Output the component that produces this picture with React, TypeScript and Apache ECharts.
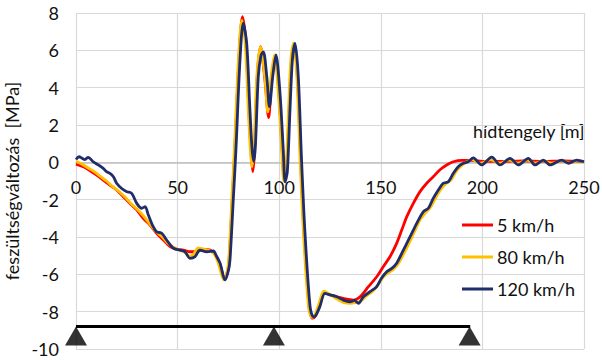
import React, { useEffect, useRef } from "react";
import * as echarts from "echarts";

const X_TICKS = [0, 50, 100, 150, 200, 250];
const SERIES_NAMES = ["5 km/h", "80 km/h", "120 km/h"];

const RED_X = [0, 3.6, 6.9, 10.2, 13.4, 16.7, 20, 23.3, 26.6, 29.9, 33.1, 36.4, 39.7, 43, 46.3, 49.5, 52.8, 56.1, 59.4, 62.5, 66, 69.2, 71, 73, 74.7, 75.5, 77, 78.3, 80.3, 81.9, 83.5, 85.2, 86.3, 87, 87.8, 89.2, 90.8, 92.9, 94.8, 96.3, 98, 99.9, 101.6, 102.6, 103.6, 104.9, 106.1, 107.4, 109, 110.6, 112.3, 114.8, 116.4, 117.7, 119.7, 122.2, 125, 128.5, 132, 136.5, 139.8, 143.9, 148, 151.2, 154.5, 157.8, 160.3, 162.8, 166, 169.3, 172.6, 175.8, 179, 182.4, 185.7, 190, 195, 200, 210, 220, 230, 240, 250];
const RED_Y = [-0.1, -0.24, -0.45, -0.68, -0.95, -1.22, -1.48, -1.84, -2.2, -2.55, -3.0, -3.36, -3.8, -4.16, -4.52, -4.66, -4.7, -4.79, -4.79, -4.66, -4.7, -5.06, -5.5, -6.25, -5.8, -5.0, -1.8, 1.0, 5.8, 7.8, 6.6, 2.5, 0.3, -0.5, 0.5, 4.6, 6.2, 4.5, 2.4, 4.5, 5.7, 3.6, 0.4, -1.0, -0.4, 2.8, 5.5, 6.3, 4.5, 0.1, -3.9, -7.8, -8.35, -8.25, -7.7, -7.0, -7.1, -7.2, -7.3, -7.38, -7.2, -6.66, -6.13, -5.59, -5.06, -4.34, -3.63, -2.91, -2.2, -1.57, -1.12, -0.77, -0.41, -0.14, 0.03, 0.1, 0.1, 0.05, 0.05, 0.08, 0.05, 0.08, 0.05];

const ORANGE_X = [0, 3, 6, 9, 12, 15, 18, 21, 24, 27, 30, 33, 36, 39, 42, 45, 48, 51, 54, 56, 58, 60, 63, 66, 68, 70, 72.8, 74.5, 75.3, 76.8, 78, 80, 81.6, 83.2, 84.8, 85.9, 86.6, 87.6, 89, 90.8, 92.9, 94.4, 96, 97.7, 99.6, 101.3, 102.3, 103.4, 104.6, 105.8, 107.1, 108.7, 110.3, 112, 114.5, 116.2, 117.5, 119.5, 122, 124.5, 128, 131.5, 135, 138, 140, 143, 146, 149, 151.5, 154, 156.5, 159, 162, 164.5, 167, 169.5, 172, 174.5, 177, 179.5, 182, 184.5, 187, 189.5, 192, 195, 199, 204, 208.5, 213, 217.5, 222, 226, 230, 234, 239, 243, 247, 250];
const ORANGE_Y = [0.05, -0.1, -0.3, -0.5, -0.75, -1.0, -1.3, -1.55, -1.85, -2.2, -2.5, -2.85, -3.25, -3.65, -3.95, -4.3, -4.55, -4.7, -4.85, -5.05, -4.9, -4.6, -4.65, -4.75, -4.9, -5.4, -6.3, -5.8, -5.0, -1.8, 0.8, 5.6, 7.6, 6.5, 2.8, 0.5, -0.25, 0.9, 4.6, 6.2, 4.6, 2.7, 4.6, 5.75, 3.7, 0.5, -1.0, -0.3, 2.8, 5.6, 6.4, 4.6, 0.1, -3.9, -7.8, -8.3, -8.2, -7.6, -6.9, -7.05, -7.3, -7.5, -7.55, -7.5, -7.45, -7.15, -6.9, -6.5, -6.1, -5.9, -5.7, -5.35, -4.75, -4.2, -3.6, -3.05, -2.7, -2.4, -1.9, -1.45, -1.15, -0.95, -0.5, -0.2, 0.0, 0.15, -0.05, 0.15, -0.05, 0.12, -0.05, 0.12, -0.05, 0.08, -0.05, 0.08, -0.02, 0.08, 0.03];

const NAVY_X = [0, 1.5, 3, 4.4, 6, 8.5, 11, 13.4, 15, 16.7, 18.4, 20, 22.5, 25, 27.4, 29.9, 32.3, 34, 35.6, 38, 39.7, 42.2, 44.6, 47.9, 51.2, 53.6, 56.1, 58.6, 61, 64.3, 67.6, 69, 70.9, 73.3, 75, 75.8, 77.4, 78.7, 80.7, 82.3, 84, 85.6, 86.6, 87.5, 88.3, 89.7, 91, 92.2, 93.9, 95.2, 96.8, 98.4, 100.4, 102, 102.9, 104, 105.3, 106.5, 107.8, 109.4, 111, 112.7, 115.2, 116.8, 118, 120, 122.5, 125, 128.3, 131.6, 134.8, 137, 139, 141.4, 144.7, 148, 150.4, 152.9, 155.4, 157.8, 161.1, 163.6, 166, 168.5, 170.9, 173.4, 175.8, 178.3, 180.7, 183.2, 185.7, 188.1, 190.6, 193, 195.5, 199.6, 204.6, 208.7, 213.6, 217.7, 222.6, 225.9, 230, 233.3, 239, 242.3, 246.4, 250];
const NAVY_Y = [0.15, 0.3, 0.22, 0.15, 0.27, 0.03, -0.14, -0.32, -0.5, -0.59, -0.77, -1.12, -1.4, -1.57, -1.66, -2.2, -2.46, -2.38, -2.82, -3.45, -3.72, -3.8, -4.16, -4.6, -4.7, -4.79, -5.14, -5.05, -4.7, -4.79, -4.75, -5.0, -5.4, -6.3, -5.8, -5.2, -2.0, 0.66, 5.48, 7.45, 6.37, 2.8, 0.8, 0.05, 0.9, 4.58, 5.7, 5.92, 4.58, 2.98, 4.58, 5.75, 3.7, 0.66, -1.04, -0.5, 2.8, 5.5, 6.37, 4.58, 0.12, -3.8, -7.73, -8.27, -8.2, -7.73, -7.02, -7.1, -7.2, -7.38, -7.47, -7.4, -7.55, -7.2, -6.93, -6.66, -6.2, -5.86, -5.68, -5.4, -4.7, -4.16, -3.63, -3.1, -2.65, -2.46, -1.93, -1.48, -1.12, -1.04, -0.59, -0.24, -0.05, 0.03, 0.24, -0.14, 0.28, -0.14, 0.21, -0.14, 0.21, -0.14, 0.12, -0.14, 0.12, -0.05, 0.12, 0.03];

const BEAM_X = [0, 194];
const BEAM_Y = -8.8;
const SUPPORTS_X = [0, 97.4, 193.7];

const COLORS = ["#ff0000", "#ffc000", "#1f2d6b"];
const FONT = "Lato, 'Open Sans', sans-serif";
const FS = 18;

const GRID_TOP = 13;
const GRID_BOTTOM = 11;
const CHART_H = 360;
const Y_MIN = -10;
const Y_MAX = 8;

const zip = (xs: number[], ys: number[]) => xs.map((x, i) => [x, ys[i]]);

export default function App() {
  const ref = useRef<HTMLDivElement>(null);
  useEffect(() => {
    if (!ref.current) return;
    const chart = echarts.init(ref.current, null, { renderer: "svg" });
    const plotH = CHART_H - GRID_TOP - GRID_BOTTOM;
    // distance from the grid bottom up to the value 0
    const zeroOffset = (plotH * (0 - Y_MIN)) / (Y_MAX - Y_MIN);
    const lineSeries = [
      [RED_X, RED_Y],
      [ORANGE_X, ORANGE_Y],
      [NAVY_X, NAVY_Y],
    ].map(([xs, ys], i) => ({
      name: SERIES_NAMES[i],
      type: "line",
      data: zip(xs, ys),
      showSymbol: false,
      symbol: "none",
      smooth: 0.3,
      lineStyle: { color: COLORS[i], width: 2.8 },
      itemStyle: { color: COLORS[i] },
      z: 3 + i,
    }));
    chart.setOption({
      animation: false,
      textStyle: { fontFamily: FONT },
      grid: { left: 76, right: 18, top: GRID_TOP, bottom: GRID_BOTTOM, containLabel: false, outerBoundsMode: "none" },
      xAxis: {
        type: "value",
        position: "bottom",
        offset: -zeroOffset,
        min: X_TICKS[0],
        max: X_TICKS[X_TICKS.length - 1],
        interval: 50,
        axisLine: { show: true, onZero: false, lineStyle: { color: "#bfbfbf", width: 1.5 } },
        axisTick: { show: false },
        axisLabel: { fontSize: FS, color: "#111", margin: 16, fontFamily: FONT },
        splitLine: { show: true, lineStyle: { color: "#d9d9d9", width: 1.2 } },
      },
      yAxis: {
        type: "value",
        min: Y_MIN,
        max: Y_MAX,
        interval: 2,
        name: "feszültségváltozás  [MPa]",
        nameLocation: "middle",
        nameRotate: 90,
        nameGap: 50,
        nameTextStyle: { fontSize: FS, color: "#111", fontFamily: FONT },
        axisLine: { show: false },
        axisTick: { show: false },
        axisLabel: { fontSize: FS, color: "#111", margin: 17, fontFamily: FONT },
        splitLine: { show: true, lineStyle: { color: "#d9d9d9", width: 1.2 } },
      },
      legend: {
        data: SERIES_NAMES,
        orient: "vertical",
        left: 457,
        top: 211,
        itemWidth: 31,
        itemHeight: 3,
        itemGap: 14,
        icon: "rect",
        textStyle: { fontSize: FS, color: "#111", fontFamily: FONT, padding: [0, 0, 0, -1] },
      },
      graphic: [
        {
          type: "text",
          right: 17,
          top: 122,
          style: { text: "hídtengely [m]", fontSize: FS, fill: "#111", fontFamily: FONT },
        },
      ],
      series: [
        ...lineSeries,
        {
          name: "beam",
          type: "line",
          data: BEAM_X.map((x) => [x, BEAM_Y]),
          symbol: "none",
          lineStyle: { color: "#000", width: 3 },
          z: 6,
        },
        {
          name: "supports",
          type: "scatter",
          data: SUPPORTS_X.map((x) => [x, BEAM_Y]),
          symbol: "triangle",
          symbolSize: [22, 19],
          symbolOffset: [0, 9.5],
          itemStyle: { color: "#000" },
          z: 7,
        },
      ],
    });
    return () => chart.dispose();
  }, []);
  return (
    <div
      ref={ref}
      style={{ position: "fixed", left: 0, top: 0, width: 602, height: 360, background: "#fff" }}
    />
  );
}
